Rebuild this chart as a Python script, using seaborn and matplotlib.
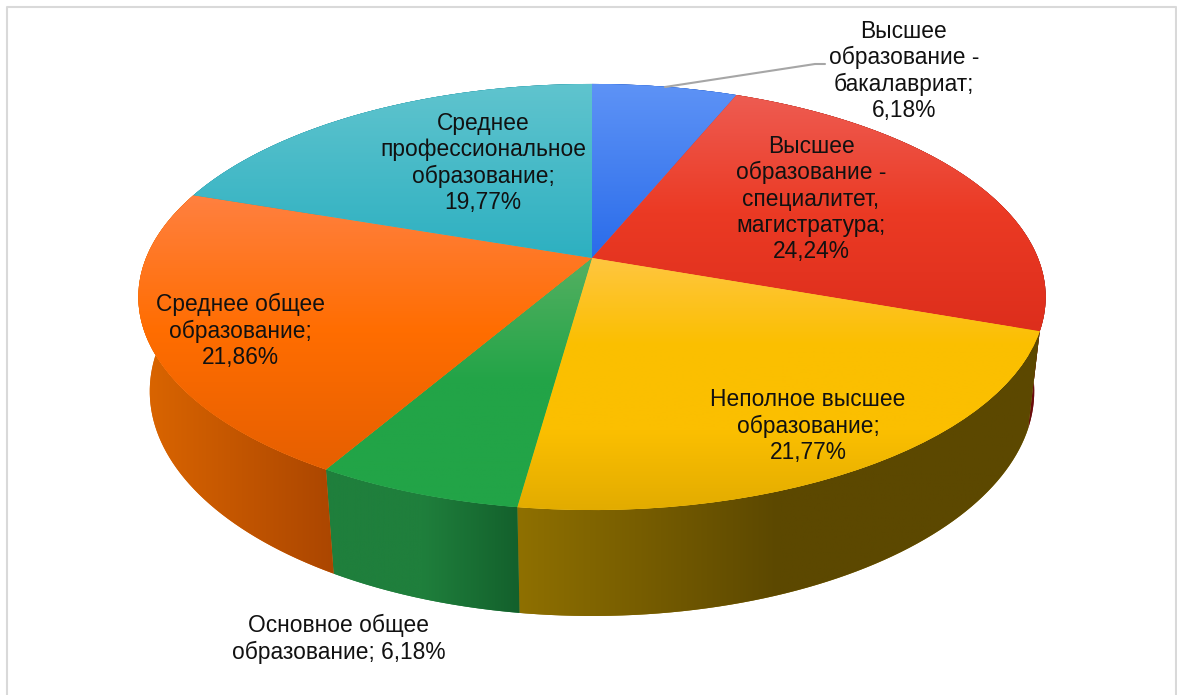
import numpy as np
import matplotlib
matplotlib.use("Agg")
import matplotlib.pyplot as plt
import seaborn as sns
from matplotlib.patches import PathPatch
from matplotlib.path import Path
from matplotlib.transforms import Transform

# shares of the pie, clockwise from 12 o'clock
values = [6.18, 24.24, 21.77, 6.18, 21.86, 19.77]
labels = [
    "Высшее\nобразование -\nбакалавриат;\n6,18%",
    "Высшее\nобразование -\nспециалитет,\nмагистратура;\n24,24%",
    "Неполное высшее\nобразование;\n21,77%",
    "Основное общее\nобразование; 6,18%",
    "Среднее общее\nобразование;\n21,86%",
    "Среднее\nпрофессиональное\nобразование;\n19,77%",
]
label_xy = [(904, 71), (811, 199), (808, 426), (339, 639), (240, 331), (483, 163)]

top_colors = [
    ["#5e93f6", "#2a6cea"],
    ["#ee5c52", "#eb3a24", "#dd2e1c"],
    ["#ffc640", "#fbbf00", "#fbbf00", "#e0aa00"],
    ["#55b062", "#22a447", "#22a447"],
    ["#ff8040", "#ff6d00", "#e65f00"],
    ["#60c4ce", "#2db0c1"],
]
side_colors = [
    ["#1d4fb0", "#1d4fb0"],
    ["#7a1410", "#6a0c0c"],
    ["#8f7000", "#5c4800", "#5c4800"],
    ["#1f7f3c", "#1f7f3c", "#13602c"],
    ["#dc6600", "#ab4600"],
    ["#1c8090", "#1c8090"],
]

# camera used by the 3D look, fitted on the slice corners of the picture
CX, CY = 592, 258
A, B, K = 446, 205.9, 0.183
DROP, SHRINK = 95.5, 0.025


class PieView(Transform):
    input_dims = 2
    output_dims = 2

    def __init__(self, z=0.0):
        super().__init__()
        self.z = z

    def transform_non_affine(self, xy):
        xy = np.asarray(xy, dtype=float)
        w = 1 + K * xy[:, 1] + SHRINK * self.z
        px = CX + A * xy[:, 0] / w
        py = CY - (B * xy[:, 1] - DROP * self.z) / w
        return np.column_stack([px, py])


def fill_gradient(ax, path, colors, zorder, vertical=True):
    # gradient image over the bounding box of the shape, clipped to the shape
    pts = path.vertices
    ramp = np.linspace(0, 1, 256)
    ramp = ramp[:, None] if vertical else ramp[None, :]
    im = ax.imshow(ramp, cmap=sns.blend_palette(colors, as_cmap=True), vmin=0, vmax=1,
                   aspect="auto", zorder=zorder,
                   extent=(pts[:, 0].min(), pts[:, 0].max(), pts[:, 1].max(), pts[:, 1].min()))
    im.set_clip_path(path, ax.transData)


sns.set_theme(style="white")
plt.rcParams["font.family"] = ["Liberation Sans", "DejaVu Sans"]

fig = plt.figure(figsize=(11.77, 6.95), dpi=100)
ax = fig.add_axes([0, 0, 1, 1])

base_colors = [c[len(c) // 2] for c in top_colors]
wedges, _ = ax.pie(values, colors=base_colors, startangle=90, counterclock=False, radius=1)
ax.set(xlim=(0, 1177), ylim=(695, 0), aspect="auto")
ax.axis("off")

upper_view = PieView(0)
bottom_view = PieView(1)

# side walls first, the top face is painted over them
for wedge, colors in zip(wedges, side_colors):
    theta = np.radians(np.linspace(wedge.theta1, wedge.theta2, 120))
    rim = np.column_stack([np.cos(theta), np.sin(theta)])
    wall = Path(np.vstack([upper_view.transform(rim), bottom_view.transform(rim)[::-1]]))
    ax.add_patch(PathPatch(wall, facecolor=colors[0], edgecolor="none", zorder=1))
    fill_gradient(ax, wall, colors, 1.5, vertical=False)

for wedge, colors in zip(wedges, top_colors):
    wedge.set_transform(upper_view + ax.transData)
    wedge.set_zorder(2)
    wedge.set_edgecolor("none")
    fill_gradient(ax, upper_view.transform_path(wedge.get_path()), colors, 2.5)

ax.plot([665, 815, 825], [87, 64, 64], color="#a6a6a6", lw=1.5, zorder=3)
ax.plot([7, 7, 1176, 1176], [695, 7, 7, 695], color="#d9d9d9", lw=1.5, zorder=3, clip_on=False)

for text, (x, y) in zip(labels, label_xy):
    ax.text(x, y, text, ha="center", va="center", fontsize=16.4, color="#111111",
            linespacing=1.18, zorder=4)

ax.set(xlim=(0, 1177), ylim=(695, 0))
fig.savefig("out.png", dpi=100, facecolor="white")
